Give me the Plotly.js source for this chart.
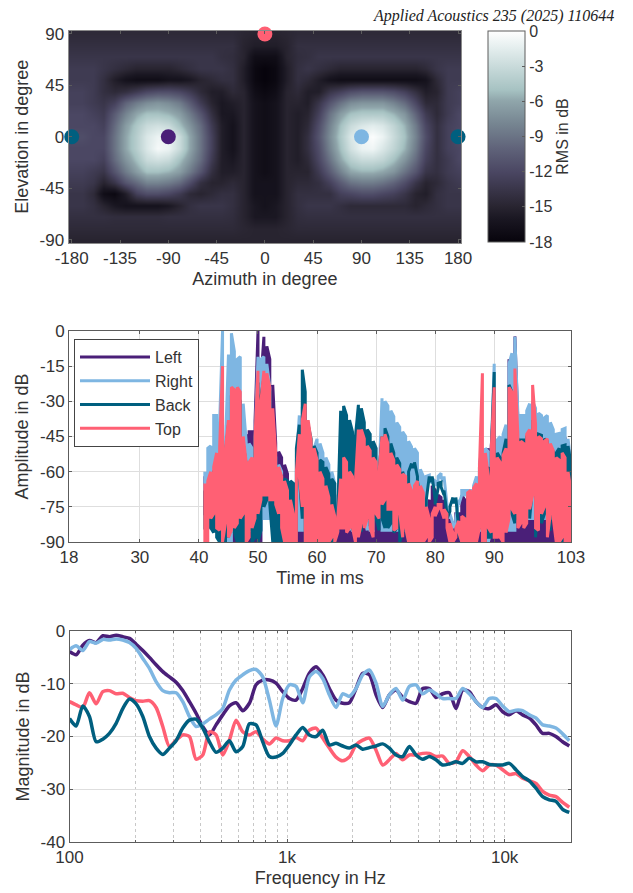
<!DOCTYPE html>
<html><head><meta charset="utf-8">
<script src="https://cdn.plot.ly/plotly-3.0.1.min.js"></script>
<style>html,body{margin:0;padding:0;background:#fff}</style></head>
<body><div id="g" style="width:633px;height:893px"></div>
<script>
const azimuth=[-180,-170,-160,-150,-140,-130,-120,-110,-100,-90,-80,-70,-60,-50,-40,-30,-20,-10,0,10,20,30,40,50,60,70,80,90,100,110,120,130,140,150,160,170,180];
const elevation=[90,80,70,60,50,40,30,20,10,0,-10,-20,-30,-40,-50,-60,-70,-80,-90];
const rms=[
[-14.5,-14.5,-14.5,-14.5,-14.5,-14.5,-14.5,-14.5,-14.5,-14.5,-14.5,-14.5,-14.5,-14.5,-14.5,-14.5,-14.8,-15,-15,-15,-14.8,-14.5,-14.5,-14.5,-14.5,-14.5,-14.5,-14.5,-14.5,-14.5,-14.5,-14.5,-14.5,-14.5,-14.5,-14.5,-14.5],
[-14,-14,-14,-14,-14,-14,-14,-14,-14,-14,-14,-14,-14,-14,-14,-14,-15,-15.5,-15.5,-15.5,-15,-14,-14,-14,-14,-14,-14,-14,-14,-14,-14,-14,-14,-14,-14,-14,-14],
[-13.5,-13.5,-13.5,-13.5,-13.5,-13.5,-13.5,-13.5,-13.5,-13.5,-13.5,-13.5,-13.5,-13.5,-14,-14.2,-15,-17,-17,-17,-15,-14.2,-14,-13.5,-13.5,-13.5,-13.5,-13.5,-13.5,-13.5,-13.5,-13.5,-13.5,-13.5,-13.5,-13.5,-13.5],
[-13,-13,-13,-13.5,-14,-14.5,-15,-15,-15,-15,-14.5,-14,-13.5,-13.5,-13.5,-14,-15.5,-17.5,-18,-17.5,-15.5,-14,-13.5,-14,-14.5,-15,-15,-15,-15,-15,-15,-15,-15,-14.5,-13.5,-13,-13],
[-13,-13,-13,-14,-15.5,-16.5,-17,-17,-17,-16.5,-16.5,-16,-15,-14.5,-14,-14,-15.5,-17.5,-18,-17.5,-15.5,-14,-14.5,-15.5,-16.5,-17,-17,-17,-17,-17,-17,-17,-17,-16.5,-14.5,-13,-13],
[-12.5,-12.5,-13,-14,-14.5,-14,-13,-12,-11.5,-11.5,-12,-13,-14.5,-15.5,-15.5,-14.5,-15,-17,-17.5,-17,-15,-14.5,-15.5,-15.5,-13.5,-12.5,-11.5,-11,-11,-11,-11.5,-12.5,-14,-15.5,-15,-13,-12.5],
[-12.5,-12.5,-13,-13.5,-12.5,-10,-8.5,-7.5,-7,-7.5,-8.5,-10.5,-13,-15,-16,-15.5,-15,-16.5,-17,-16.5,-15,-15,-15.5,-13.5,-11,-9,-7.5,-7,-7,-7,-8,-9.5,-12,-14.5,-14.5,-13,-12.5],
[-12,-12,-12.5,-13,-10.5,-8,-6,-5,-5,-5.5,-6.5,-8.5,-11,-14,-16,-16,-15,-16.5,-17,-16.5,-15,-15.5,-15,-12.5,-9,-6.5,-5,-4.5,-4.5,-4.5,-5.5,-7,-10,-13,-14.5,-13,-12],
[-12,-12,-12,-12.5,-9.5,-6.5,-4.5,-3,-2.5,-3,-5,-7,-9.5,-13,-15.5,-16.5,-15,-16.5,-17,-16.5,-15,-15.5,-14.5,-11.5,-8,-5,-3,-2,-1.5,-2,-3.5,-5.5,-8.5,-12,-14,-12.5,-12],
[-11.5,-11.5,-12,-12,-9,-6,-4,-2,-1,-1,-3,-6,-9,-12.5,-15.5,-16.5,-15,-16.5,-17,-16.5,-15,-15.5,-14,-11,-7.5,-4.5,-2,-0.8,-0.2,-1,-3,-5,-8,-11.5,-14,-12.5,-11.5],
[-12,-12,-12,-12,-9,-6,-4,-2,-0.5,-1,-3,-6,-9,-12.5,-15.5,-16.5,-15,-16.5,-17,-16.5,-15,-15.5,-14,-11.5,-8,-5,-2.5,-1,-0.8,-2,-3.5,-5.5,-8.5,-12,-14,-12.5,-12],
[-12,-12,-12,-12.5,-9.5,-7,-5,-3,-2.5,-3,-5,-7,-9.5,-13,-15.5,-16,-15,-16.5,-17,-16.5,-15,-15.5,-14.5,-12,-9,-6,-4,-3,-3,-3.5,-5,-7,-9.5,-12.5,-14,-13,-12],
[-12.5,-12.5,-13,-13.5,-11,-8.5,-6.5,-5,-5,-5.5,-6.5,-8.5,-11,-14,-15.5,-15.5,-15,-16.5,-17,-16.5,-15,-15,-15,-13,-10.5,-8,-6,-5.5,-5.5,-6,-7,-9,-11,-13.5,-14,-13,-12.5],
[-13,-13,-13.5,-15,-13.5,-11,-9.5,-8,-8,-8.5,-9.5,-11.5,-14,-15,-15,-14.5,-15,-16.5,-16.5,-16.5,-15,-14.5,-14.5,-14,-12.5,-10.5,-9,-8.5,-8.5,-9,-10,-11.5,-13.5,-15,-14.5,-13.5,-13],
[-13.5,-13.5,-14.5,-17,-17.5,-15.5,-12.5,-11.5,-11.5,-12,-13,-14.5,-15,-14.5,-14,-14,-15,-16.5,-16.5,-16.5,-15,-14,-14,-14,-14,-12.5,-12,-11.5,-11.5,-12,-12.5,-13.5,-15,-15.5,-14,-13.5,-13.5],
[-13.5,-13.5,-14,-15,-16,-16.5,-16.5,-16.5,-16.5,-16,-15,-14,-13.5,-13.5,-13.5,-14,-15,-16,-16.5,-16,-15,-14,-13.5,-13.5,-13.5,-14,-14.5,-14.5,-14.5,-14.5,-14.5,-14.5,-15,-14.5,-14,-13.5,-13.5],
[-14,-14,-14,-14,-14.2,-14.2,-14.2,-14.2,-14.2,-14,-14,-14,-14,-14,-14,-14.2,-15,-16,-16,-16,-15,-14.2,-14,-14,-14,-14,-14,-14,-14,-14,-14,-14,-14,-14,-14,-14,-14],
[-14.5,-14.5,-14.5,-14.5,-14.5,-14.5,-14.5,-14.5,-14.5,-14.5,-14.5,-14.5,-14.5,-14.5,-14.5,-14.5,-14.8,-15,-15,-15,-14.8,-14.5,-14.5,-14.5,-14.5,-14.5,-14.5,-14.5,-14.5,-14.5,-14.5,-14.5,-14.5,-14.5,-14.5,-14.5,-14.5],
[-15,-15,-15,-15,-15,-15,-15,-15,-15,-15,-15,-15,-15,-15,-15,-15,-15,-15,-15,-15,-15,-15,-15,-15,-15,-15,-15,-15,-15,-15,-15,-15,-15,-15,-15,-15,-15]
];
const markerNames=["Left","Right","Back","Back","Top"];
const markerAz=[-90,90,-180,180,0];
const markerEl=[0,0,0,0,90];
const seriesColors={Left:"#4a1f78",Right:"#7eb6e2",Back:"#005f7f",Top:"#ff6074"};

const timeMs=[41,41.5,42,42.5,43,43.5,44,44.5,45,45.5,46,46.5,47,47.5,48,48.5,49,49.5,50,50.5,
51,51.5,52,52.5,53,53.5,54,54.5,55,55.5,56,56.5,57,57.5,58,58.5,59,59.5,60,60.5,
61,61.5,62,62.5,63,63.5,64,64.5,65,65.5,66,66.5,67,67.5,68,68.5,69,69.5,70,70.5,
71,71.5,72,72.5,73,73.5,74,74.5,75,75.5,76,76.5,77,77.5,78,78.5,79,79.5,80,80.5,
81,81.5,82,82.5,83,83.5,84,84.5,85,85.5,86,86.5,87,87.5,88,88.5,89,89.5,90,90.5,
91,91.5,92,92.5,93,93.5,94,94.5,95,95.5,96,96.5,97,97.5,98,98.5,99,99.5,100,100.5,
101,101.5,102,102.5,103];
const leftHi=[-62,-62,-62,-60,-60,-58,-40,-60,-45,-40,-40,-40,-42,-50,-44,-43,-43,-38.5,0,-21,
-2.5,-6.5,-12,-23,-47.8,-51.5,-54,-57,-61,-66,-75,-65,-58,-48,-48,-52,-60,-60,-60,-62,
-62,-64,-66,-68,-70,-78,-70,-68,-64,-66,-66,-68,-62,-60,-56,-58,-60,-62,-64,-66,
-52,-50,-52,-54,-58,-60,-62,-64,-66,-68,-70,-72,-74,-76,-80,-76,-72,-66,-68,-70,
-71,-72,-78,-80,-82,-78,-78,-70,-72,-70,-70,-68,-66,-60,-56,-56,-50,-49,-30,-48,
-46,-46,-41.5,-12,-30,-2.3,-38,-40,-40,-38,-36,-34,-38,-40,-40,-42,-42,-44,-46,-48,
-46,-46,-46,-50,-60];
const leftLo=[-78,-78,-78,-78,-78,-80,-90,-90,-90,-90,-90,-90,-90,-90,-90,-90,-90,-90,-90,-90,
-80,-80,-80,-80,-90,-90,-90,-90,-90,-90,-90,-90,-90,-90,-90,-90,-90,-90,-90,-90,
-90,-90,-90,-90,-90,-90,-90,-90,-90,-90,-90,-90,-90,-90,-90,-90,-90,-90,-90,-90,
-90,-90,-90,-90,-90,-90,-90,-90,-90,-90,-90,-90,-90,-90,-90,-90,-90,-90,-90,-90,
-90,-90,-90,-90,-90,-90,-90,-90,-90,-90,-90,-90,-90,-90,-90,-90,-90,-90,-90,-90,
-90,-90,-90,-90,-90,-90,-90,-90,-90,-90,-90,-90,-90,-90,-90,-90,-90,-90,-90,-90,
-90,-90,-90,-90,-90];
const rightHi=[-60,-50,-49,-36,-36,-40,0,-48,-10,-1,-8.7,-12,-11,-31,-47,-48,-50,-47,-11,-12,
-11,-14,-24,-42,-54,-57,-60,-65,-65,-68,-72,-55,-36,-33,-33,-45,-53,-50,-46,-48,
-52,-54,-57,-60,-65,-75,-66,-64,-60,-62,-62,-64,-58,-56,-52,-53,-55,-58,-60,-62,
-28.7,-30,-32,-34,-36.5,-39,-41,-43,-45,-47,-49.4,-50,-52,-59,-62,-62,-61.5,-63,-64,-62,
-60.7,-62,-74,-78,-82,-80,-72,-68,-68,-68,-68,-66,-62,-56,-50,-50,-51.5,-50,-14,-46.5,
-45,-44,-40,-14,-9.5,-2.5,-35,-36,-36,-34,-31,-30,-33,-35,-36,-37,-36,-39,-42,-44,
-43.7,-42,-41.5,-46,-57];
const rightLo=[-68,-70,-70,-70,-70,-80,-90,-90,-90,-90,-85,-85,-85,-85,-85,-85,-85,-85,-85,-85,
-80,-80,-80,-80,-85,-85,-85,-85,-85,-85,-85,-85,-85,-85,-85,-85,-85,-85,-85,-90,
-90,-90,-90,-85,-85,-85,-80,-80,-80,-85,-85,-85,-80,-80,-80,-85,-85,-85,-80,-80,
-85,-85,-85,-85,-85,-85,-85,-85,-85,-85,-85,-85,-85,-85,-85,-85,-63.5,-65,-66,-64,
-62.7,-64,-76,-80,-84,-82,-74,-70,-70,-70,-85,-85,-85,-85,-85,-85,-90,-85,-85,-85,
-85,-85,-85,-85,-85,-85,-80,-80,-80,-80,-80,-80,-80,-80,-80,-80,-80,-80,-80,-80,
-85,-85,-85,-85,-85];
const backHi=[-68,-66,-62,-60,-58,-56,-45,-52,-40,-28,-28,-27,-30,-48,-57,-58,-56,-47,-22,-28,
-20,-22,-26,-48,-54,-60,-62,-63,-64,-64,-65,-50,-40,-16.5,-26,-40,-46,-49,-52,-55,
-56,-58,-61,-63,-65,-78,-34,-32,-36,-38,-43,-45,-31.5,-33,-39,-42,-44,-47,-50,-60,
-45,-41.5,-45,-48,-52,-54,-56.5,-60,-65,-60,-56.5,-56,-62,-72,-85,-72,-62,-62,-72,-65,
-64.5,-68,-78,-75,-71,-71,-85,-90,-85,-75,-72,-70,-68,-58,-55,-60,-58,-52,-17.5,-52,
-54,-52,-46,-23,-26,-40,-46,-46.5,-46.5,-45,-43.7,-38,-43.7,-44,-44.5,-46,-47,-49,-51.5,-52,
-50,-49,-48.6,-49,-56.5];
const backLo=[-84,-84,-84,-86,-88,-90,-78,-90,-88,-75,-86,-90,-90,-90,-90,-85,-90,-88,-90,-85,
-75,-72,-74,-90,-90,-90,-90,-90,-90,-90,-90,-90,-62,-80,-90,-90,-85,-90,-90,-90,
-90,-85,-90,-90,-90,-85,-80,-84,-78,-82,-84,-88,-85,-85,-80,-80,-83,-85,-80,-85,
-80,-84,-84,-82,-86,-84,-90,-86,-85,-90,-58,-58,-64,-74,-87,-74,-64,-64,-74,-67,
-66.5,-70,-80,-77,-73,-73,-87,-90,-87,-77,-90,-90,-85,-84,-75,-85,-88,-88,-65,-84,
-84,-84,-80,-70,-78,-82,-80,-80,-78,-72,-80,-66,-88,-70,-82,-78,-84,-85,-75,-70,
-88,-90,-78,-90,-90];
const topHi=[-65,-64,-60,-58,-52,-50,-15,-50,-38,-24,-25,-24,-26,-45,-56,-56,-54,-45,-17,-30,
-17,-18,-24,-33,-52,-58,-62,-64,-68,-72,-78,-60,-44,-38,-31,-38,-47,-50,-55,-60,
-63,-66,-71,-74,-79,-80,-63,-54,-56,-60,-62,-64,-42,-42,-46,-49,-51,-54,-56,-60,
-45,-44,-48,-52,-55,-57,-59,-61,-62,-65,-68,-66,-64,-66,-69,-75,-80,-78,-75,-74,
-74,-76,-78,-82,-86,-84,-81,-79,-80,-69,-68,-67,-65,-58,-18,-52,-62,-50,-24,-54,
-56,-53,-50,-24,-26,-16,-44,-47,-48,-44,-42,-23,-40,-45,-46,-47,-46,-48,-51,-54,
-55,-52,-54,-60,-68];
const topLo=[-90,-90,-80,-78,-84,-85,-90,-82,-88,-85,-84,-82,-80,-78,-90,-88,-84,-80,-78,-72,
-70,-70,-72,-72,-74,-78,-84,-90,-90,-90,-90,-90,-62,-75,-90,-90,-90,-90,-90,-90,
-90,-90,-90,-88,-90,-86,-84,-84,-86,-84,-84,-90,-88,-82,-84,-80,-84,-88,-78,-80,
-74,-72,-76,-76,-85,-84,-78,-88,-84,-90,-90,-90,-90,-90,-90,-88,-90,-88,-79,-76,
-76,-80,-84,-90,-90,-88,-86,-90,-90,-90,-90,-90,-90,-84,-90,-90,-84,-86,-88,-88,
-88,-90,-86,-80,-76,-78,-84,-82,-84,-82,-76,-70,-84,-85,-78,-75,-88,-78,-80,-90,
-90,-88,-90,-90,-90];

const freqHz=[100,107.3,115.1,123.5,132.6,142.3,152.6,163.8,175.8,188.6,202.4,217.2,233,250,268.3,287.9,309,331.5,355.8,381.8,409.7,439.6,471.7,506.2,543.2,582.9,625.5,671.2,720.2,772.9,829.3,889.9,955,1025,1100,1180,1266,1359,1458,1565,1679,1802,1933,2075,2226,2389,2564,2751,2952,3168,3399,3648,3914,4200,4507,4836,5190,5569,5976,6413,6881,7384,7924,8503,9124,9791,10506,11274,12098,12982,13931,14948,16041,17213,18471,19821];
const magLeft=[-3.9,-4.5,-2.7,-1.8,-2.2,-0.9,-1.1,-0.8,-1.1,-1.4,-2.5,-3.7,-5,-6.4,-7.7,-8.7,-9.7,-11.3,-13.4,-15.6,-18.1,-19.7,-17.8,-15.9,-14.2,-13.6,-15.1,-13.7,-10.2,-9.3,-9.3,-9.9,-11.5,-12.8,-13.1,-10.9,-8,-6.8,-8.3,-10.9,-13.1,-13.7,-13.6,-10.9,-8,-8.3,-12.1,-14.5,-12.1,-11.2,-12.6,-13.4,-13.7,-10.9,-10.9,-12.6,-11.9,-11.7,-14.7,-11.2,-11.5,-13.4,-14.5,-14.7,-14,-15.3,-15.9,-15.1,-15.9,-16.5,-17.8,-19.4,-19.4,-20,-21,-21.8];
const magRight=[-3.5,-2.8,-3.7,-2,-2.3,-1.6,-1.7,-1.5,-1.7,-2.2,-3.3,-5.2,-7.1,-9.6,-11.3,-11.7,-11.7,-13.4,-16.2,-18.1,-17.6,-16.7,-15.9,-14.7,-11.2,-9.3,-8.3,-7.5,-7.3,-8.7,-13.1,-18,-12.8,-10.2,-10.5,-13.6,-8.7,-7.7,-9,-12.1,-14.5,-11.9,-12.4,-10.9,-8.3,-7.4,-9.9,-14.3,-12.1,-10.9,-13.1,-10.5,-10.2,-11.9,-11.2,-11.9,-12.8,-12.8,-12.8,-10.9,-11.9,-13.4,-14.5,-12.8,-12.8,-14.2,-15.3,-15,-15.1,-15.9,-16.5,-17.8,-18,-18.4,-19.5,-20.8];
const magTop=[-13.4,-14,-14.5,-11.7,-13.8,-11.5,-11.3,-11.9,-11.8,-12.6,-13.2,-13.3,-13.2,-14.5,-18.1,-21.9,-20.7,-19.7,-20,-24.3,-23.5,-19.1,-19.7,-23.5,-20.7,-16.9,-19.1,-19.7,-19.1,-20.5,-21.4,-20.3,-20.8,-20.8,-20.2,-20.8,-18.8,-18.4,-20.3,-22.2,-23.9,-24.6,-23.9,-21.6,-20.7,-20.3,-22.6,-25.4,-24.4,-23.2,-24.4,-23.5,-23.5,-23.2,-23.2,-23.8,-23.7,-25.1,-24.8,-22.7,-23.8,-25.4,-26.5,-25.4,-25.4,-26.3,-27.2,-27,-27.9,-28.4,-28.9,-30.4,-31.1,-31.4,-32.5,-33.4];
const magBack=[-16.6,-18,-14.2,-16.2,-21,-20.5,-19.4,-17.5,-14.7,-12.9,-13.8,-16.2,-20,-22.2,-23.4,-22.2,-20.8,-18.4,-16.9,-16.7,-18.4,-21,-23,-22.2,-20.8,-22.9,-21.9,-17.6,-17.8,-21,-23.8,-23.9,-23.2,-21.6,-19.7,-18.3,-19.7,-20,-18.8,-21.6,-21.3,-21.8,-22.2,-21.6,-22.4,-22.1,-21.8,-21.4,-22.2,-23.5,-23.8,-21.9,-23.5,-24.3,-23.8,-24.4,-25.4,-25.2,-24.8,-25.1,-24.1,-24.8,-24.8,-25.3,-25.4,-25.4,-25.1,-26.3,-27.6,-28.4,-29.8,-31.4,-32,-32.3,-33.8,-34.4];

const W=633,H=893;
const dx=(a,b)=>[a/W,b/W], dy=(t,b)=>[1-b/H,1-t/H];
const ink="#333333",frame="#5c5c5c",gridc="#dedede";
const tf={family:"Liberation Sans, Arial, sans-serif",size:17,color:ink};
const ttf={family:"Liberation Sans, Arial, sans-serif",size:18,color:ink};

function serpentine(ts,hi,lo){const x=[],y=[];
  for(let i=0;i<ts.length;i++){
    const a=i%2?lo[i]:hi[i], b=i%2?hi[i]:lo[i];
    x.push(ts[i],ts[i]);y.push(a,b);}
  return {x,y};}

const traces=[{type:"heatmap",x:azimuth,y:elevation,z:rms,zmin:-18,zmax:0,zsmooth:"best",xaxis:"x",yaxis:"y",
  colorscale:[[0,"#07040c"],[0.11,"#1a1722"],[0.17,"#292531"],[0.33,"#4a4662"],[0.44,"#5f6279"],[0.56,"#768591"],[0.67,"#90a6ab"],[0.72,"#a6c2c2"],[0.83,"#c8dada"],[0.92,"#e4eeee"],[1,"#ffffff"]],
  colorbar:{x:487.7/W,xanchor:"left",xpad:0,y:1-31/H,yanchor:"top",ypad:0,thickness:37,thicknessmode:"pixels",len:211/H,lenmode:"fraction",
    outlinecolor:frame,outlinewidth:1,tickvals:[0,-3,-6,-9,-12,-15,-18],ticktext:["0","-3","-6","-9","-12","-15","-18"],ticks:"inside",ticklen:3,tickcolor:frame,
    tickfont:{family:tf.family,size:16,color:ink},title:{text:"RMS in dB",side:"right",font:{family:tf.family,size:16,color:ink}}},
  hoverinfo:"skip"},
 {type:"scatter",mode:"markers",x:markerAz,y:markerEl,text:markerNames,xaxis:"x",yaxis:"y",cliponaxis:false,showlegend:false,
  marker:{size:15,color:markerNames.map(n=>seriesColors[n])}}];
[["Left",leftHi,leftLo],["Right",rightHi,rightLo],["Back",backHi,backLo],["Top",topHi,topLo]].forEach(([n,h,l])=>{
  const s=serpentine(timeMs,h,l);
  traces.push({type:"scatter",mode:"lines",name:n,x:s.x,y:s.y,xaxis:"x2",yaxis:"y2",line:{color:seriesColors[n],width:3,simplify:false,shape:"linear"}});
});
[["Left",magLeft],["Right",magRight],["Top",magTop],["Back",magBack]].forEach(([n,m])=>{
  traces.push({type:"scatter",mode:"lines",name:n,x:freqHz,y:m,xaxis:"x3",yaxis:"y3",showlegend:false,line:{color:seriesColors[n],width:3.5,shape:"spline",smoothing:0.7}});
});

const base={showline:true,mirror:"ticks",linecolor:frame,linewidth:1,ticks:"inside",ticklen:3,tickcolor:frame,tickfont:tf,zeroline:false,automargin:false};
const layout={width:W,height:H,margin:{l:0,r:0,t:0,b:0,pad:0},paper_bgcolor:"#fff",plot_bgcolor:"#fff",font:{family:tf.family,color:ink},
 showlegend:true,
 legend:{x:74/W,xanchor:"left",y:1-339/H,yanchor:"top",bgcolor:"#fff",bordercolor:"#444",borderwidth:1,font:{family:tf.family,size:16,color:ink},itemwidth:70,traceorder:"normal",itemclick:false},
 xaxis:{...base,domain:dx(68.5,461.3),range:[-183,183],tickvals:[-180,-135,-90,-45,0,45,90,135,180],ticktext:["-180","-135","-90","-45","0","45","90","135","180"],showgrid:false,linecolor:"#8a8a8a",anchor:"y",title:{text:"Azimuth in degree",font:ttf,standoff:4}},
 yaxis:{...base,domain:dy(30.5,243),range:[-93,93],tickvals:[-90,-45,0,45,90],ticktext:["-90","-45","0","45","90"],showgrid:false,linecolor:"#8a8a8a",anchor:"x",title:{text:"Elevation in degree",font:ttf,standoff:6}},
 xaxis2:{...base,domain:dx(69,571),range:[18,103],tickvals:[18,30,40,50,60,70,80,90,103],ticktext:["18","30","40","50","60","70","80","90","103"],showgrid:true,gridcolor:gridc,gridwidth:1,anchor:"y2",title:{text:"Time in ms",font:ttf,standoff:4}},
 yaxis2:{...base,domain:dy(331,542),range:[-90,0],tickvals:[0,-15,-30,-45,-60,-75,-90],ticktext:["0","-15","-30","-45","-60","-75","-90"],showgrid:true,gridcolor:gridc,gridwidth:1,anchor:"x2",title:{text:"Amplitude in dB",font:ttf,standoff:6}},
 xaxis3:{...base,type:"log",domain:dx(69.5,571),range:[2,4.305],tickvals:[100,1000,10000],ticktext:["100","1k","10k"],showgrid:true,gridcolor:"#c8c8c8",griddash:"dot",gridwidth:1,anchor:"y3",title:{text:"Frequency in Hz",font:ttf,standoff:4},
   minor:{tickvals:[200,300,400,500,600,700,800,900,2000,3000,4000,5000,6000,7000,8000,9000],ticks:"inside",ticklen:2,tickcolor:frame,showgrid:true,gridcolor:"#c8c8c8",griddash:"dot",gridwidth:1}},
 yaxis3:{...base,domain:dy(631,842),range:[-40,0],tickvals:[0,-10,-20,-30,-40],ticktext:["0","-10","-20","-30","-40"],showgrid:true,gridcolor:gridc,gridwidth:1,anchor:"x3",title:{text:"Magnitude in dB",font:ttf,standoff:6}},
 annotations:[{text:"Applied Acoustics 235 (2025) 110644",xref:"paper",yref:"paper",x:616/W,y:1-16/H,xanchor:"right",yanchor:"middle",showarrow:false,font:{family:"Liberation Serif, serif",size:16,color:"#222"},textangle:0}]
};
layout.annotations[0].text="<i>Applied Acoustics 235 (2025) 110644</i>";
Plotly.newPlot("g",traces,layout,{displayModeBar:false,staticPlot:true});
</script></body></html>
